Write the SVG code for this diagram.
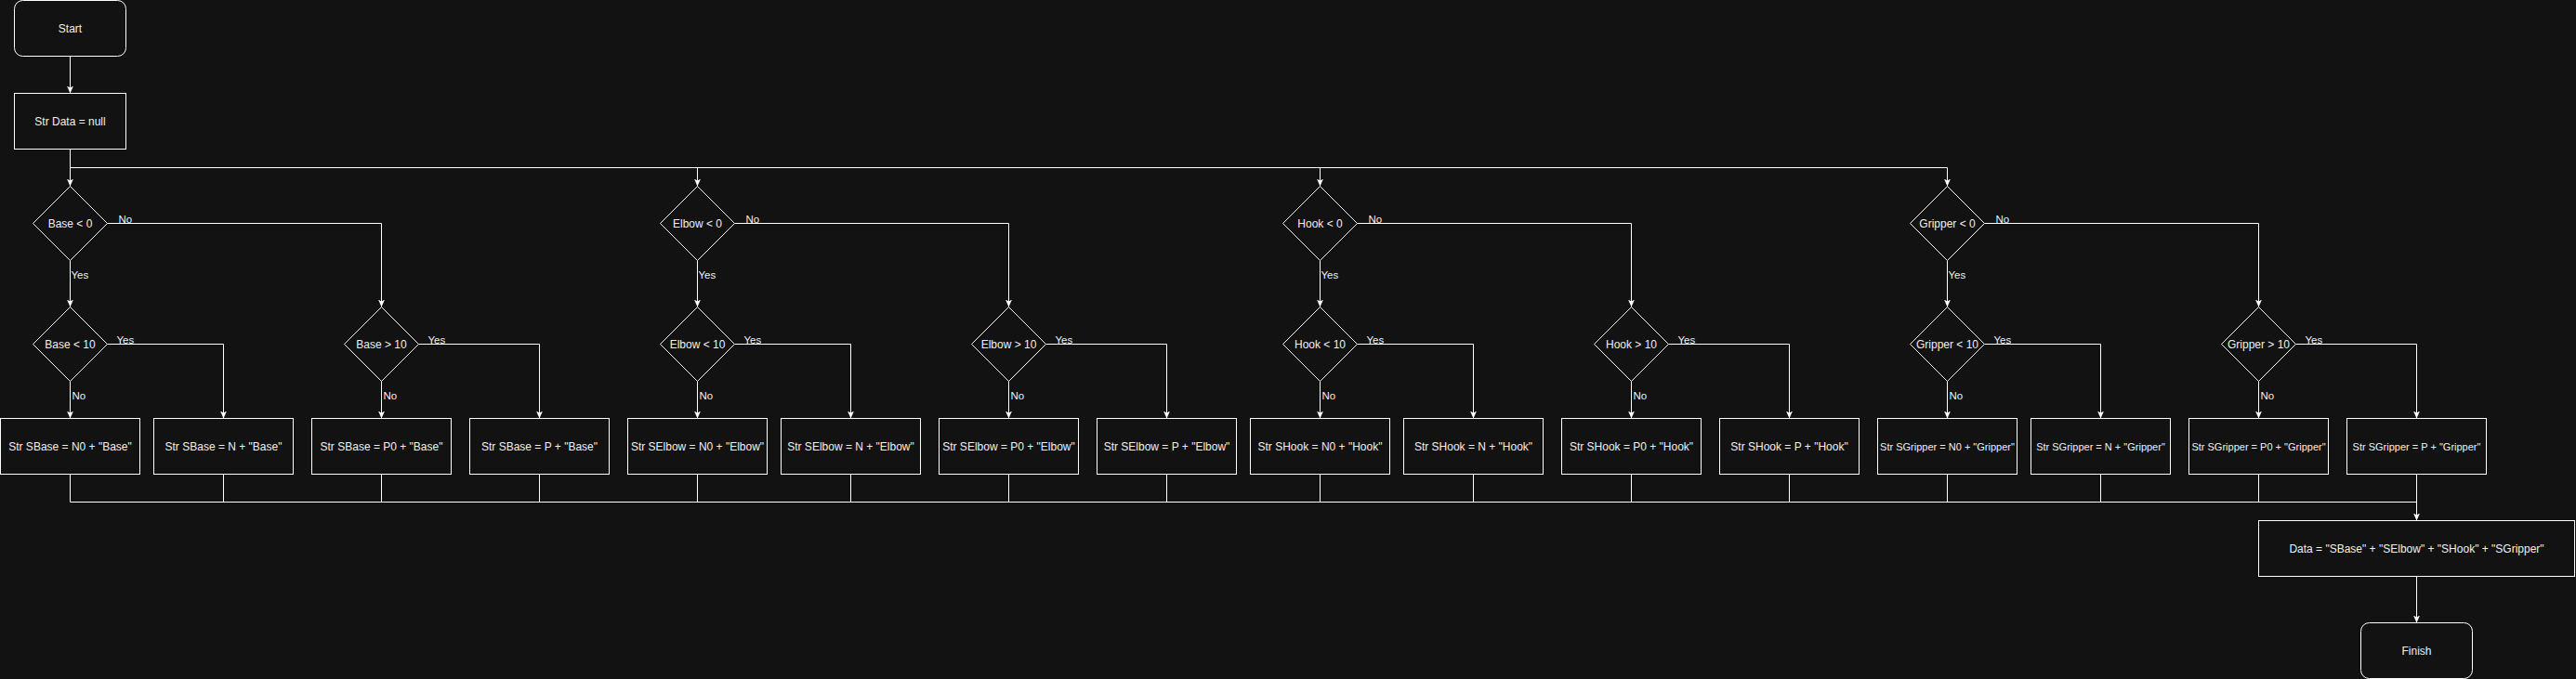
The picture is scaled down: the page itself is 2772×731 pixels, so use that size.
<svg xmlns="http://www.w3.org/2000/svg" width="2772" height="731" viewBox="0 0 2772 731">
<defs>
<marker id="arr" markerUnits="userSpaceOnUse" markerWidth="10" markerHeight="10" refX="8" refY="3.5" orient="auto">
<path d="M0,0 L8,3.5 L0,7 L2,3.5 Z" fill="#ffffff"/>
</marker>
<style>
.n{fill:#121212;stroke:#ffffff;stroke-width:1}
.t{font-family:"Liberation Sans",Arial,Helvetica,sans-serif;font-size:12px;fill:#f0f0f0;text-anchor:middle}
.ts{font-size:11px}
.e{fill:none;stroke:#ffffff;stroke-width:1;marker-end:url(#arr)}
.l{fill:none;stroke:#ffffff;stroke-width:1}
.lb{font-family:"Liberation Sans",Arial,Helvetica,sans-serif;font-size:11.5px;fill:#f0f0f0}
</style>
</defs>
<rect x="0" y="0" width="2772" height="731" fill="#121212"/>

<g id="connectors">
<path class="e" d="M75.5 60.5 V100.5"/>
<path class="e" d="M75.5 160.5 V180.5 V200.5"/>
<path class="e" d="M75.5 160.5 V180.5 H750.5 V200.5"/>
<path class="e" d="M75.5 160.5 V180.5 H1420.5 V200.5"/>
<path class="e" d="M75.5 160.5 V180.5 H2095.5 V200.5"/>
<!-- Base -->
<path class="e" d="M75.5 280.5 V330.5"/>
<path class="e" d="M115.5 240.5 H410.5 V330.5"/>
<path class="e" d="M115.5 370.5 H240.5 V450.5"/>
<path class="e" d="M75.5 410.5 V450.5"/>
<path class="e" d="M450.5 370.5 H580.5 V450.5"/>
<path class="e" d="M410.5 410.5 V450.5"/>
<!-- Elbow -->
<path class="e" d="M750.5 280.5 V330.5"/>
<path class="e" d="M790.5 240.5 H1085.5 V330.5"/>
<path class="e" d="M790.5 370.5 H915.5 V450.5"/>
<path class="e" d="M750.5 410.5 V450.5"/>
<path class="e" d="M1125.5 370.5 H1255.5 V450.5"/>
<path class="e" d="M1085.5 410.5 V450.5"/>
<!-- Hook -->
<path class="e" d="M1420.5 280.5 V330.5"/>
<path class="e" d="M1460.5 240.5 H1755.5 V330.5"/>
<path class="e" d="M1460.5 370.5 H1585.5 V450.5"/>
<path class="e" d="M1420.5 410.5 V450.5"/>
<path class="e" d="M1795.5 370.5 H1925.5 V450.5"/>
<path class="e" d="M1755.5 410.5 V450.5"/>
<!-- Gripper -->
<path class="e" d="M2095.5 280.5 V330.5"/>
<path class="e" d="M2135.5 240.5 H2430.5 V330.5"/>
<path class="e" d="M2135.5 370.5 H2260.5 V450.5"/>
<path class="e" d="M2095.5 410.5 V450.5"/>
<path class="e" d="M2470.5 370.5 H2600.5 V450.5"/>
<path class="e" d="M2430.5 410.5 V450.5"/>
<!-- merge -->
<path class="l" d="M75.5 510.5 V540.5 H2600.5"/>
<path class="l" d="M240.5 510.5 V540.5"/>
<path class="l" d="M410.5 510.5 V540.5"/>
<path class="l" d="M580.5 510.5 V540.5"/>
<path class="l" d="M750.5 510.5 V540.5"/>
<path class="l" d="M915.5 510.5 V540.5"/>
<path class="l" d="M1085.5 510.5 V540.5"/>
<path class="l" d="M1255.5 510.5 V540.5"/>
<path class="l" d="M1420.5 510.5 V540.5"/>
<path class="l" d="M1585.5 510.5 V540.5"/>
<path class="l" d="M1755.5 510.5 V540.5"/>
<path class="l" d="M1925.5 510.5 V540.5"/>
<path class="l" d="M2095.5 510.5 V540.5"/>
<path class="l" d="M2260.5 510.5 V540.5"/>
<path class="l" d="M2430.5 510.5 V540.5"/>
<path class="e" d="M2600.5 510.5 V560.5"/>
<path class="e" d="M2600.5 620.5 V670.5"/>
<!-- labels -->
<g>
<text class="lb" x="127.5" y="239.5">No</text>
<text class="lb" x="76.5" y="299.5">Yes</text>
<text class="lb" x="125.5" y="369.5">Yes</text>
<text class="lb" x="77.5" y="429.5">No</text>
<text class="lb" x="460.5" y="369.5">Yes</text>
<text class="lb" x="412.5" y="429.5">No</text>

<text class="lb" x="802.5" y="239.5">No</text>
<text class="lb" x="751.5" y="299.5">Yes</text>
<text class="lb" x="800.5" y="369.5">Yes</text>
<text class="lb" x="752.5" y="429.5">No</text>
<text class="lb" x="1135.5" y="369.5">Yes</text>
<text class="lb" x="1087.5" y="429.5">No</text>

<text class="lb" x="1472.5" y="239.5">No</text>
<text class="lb" x="1421.5" y="299.5">Yes</text>
<text class="lb" x="1470.5" y="369.5">Yes</text>
<text class="lb" x="1422.5" y="429.5">No</text>
<text class="lb" x="1805.5" y="369.5">Yes</text>
<text class="lb" x="1757.5" y="429.5">No</text>

<text class="lb" x="2147.5" y="239.5">No</text>
<text class="lb" x="2096.5" y="299.5">Yes</text>
<text class="lb" x="2145.5" y="369.5">Yes</text>
<text class="lb" x="2097.5" y="429.5">No</text>
<text class="lb" x="2480.5" y="369.5">Yes</text>
<text class="lb" x="2432.5" y="429.5">No</text>
</g>
</g>

<g id="start"><rect class="n" x="15.5" y="0.5" width="120" height="60" rx="9"/><text class="t" x="75.5" y="34.5">Start</text></g>
<g id="init"><rect class="n" x="15.5" y="100.5" width="120" height="60"/><text class="t" x="75.5" y="134.5">Str Data = null</text></g>

<g id="base-lt0"><polygon class="n" points="75.5,200.5 115.5,240.5 75.5,280.5 35.5,240.5"/><text class="t" x="75.5" y="244.5">Base &lt; 0</text></g>
<g id="base-lt10"><polygon class="n" points="75.5,330.5 115.5,370.5 75.5,410.5 35.5,370.5"/><text class="t" x="75.5" y="374.5">Base &lt; 10</text></g>
<g id="base-gt10"><polygon class="n" points="410.5,330.5 450.5,370.5 410.5,410.5 370.5,370.5"/><text class="t" x="410.5" y="374.5">Base &gt; 10</text></g>
<g id="base-n0"><rect class="n" x="0.5" y="450.5" width="150" height="60"/><text class="t" x="75.5" y="484.5">Str SBase = N0 + "Base"</text></g>
<g id="base-n"><rect class="n" x="165.5" y="450.5" width="150" height="60"/><text class="t" x="240.5" y="484.5">Str SBase = N + "Base"</text></g>
<g id="base-p0"><rect class="n" x="335.5" y="450.5" width="150" height="60"/><text class="t" x="410.5" y="484.5">Str SBase = P0 + "Base"</text></g>
<g id="base-p"><rect class="n" x="505.5" y="450.5" width="150" height="60"/><text class="t" x="580.5" y="484.5">Str SBase = P + "Base"</text></g>

<g id="elbow-lt0"><polygon class="n" points="750.5,200.5 790.5,240.5 750.5,280.5 710.5,240.5"/><text class="t" x="750.5" y="244.5">Elbow &lt; 0</text></g>
<g id="elbow-lt10"><polygon class="n" points="750.5,330.5 790.5,370.5 750.5,410.5 710.5,370.5"/><text class="t" x="750.5" y="374.5">Elbow &lt; 10</text></g>
<g id="elbow-gt10"><polygon class="n" points="1085.5,330.5 1125.5,370.5 1085.5,410.5 1045.5,370.5"/><text class="t" x="1085.5" y="374.5">Elbow &gt; 10</text></g>
<g id="elbow-n0"><rect class="n" x="675.5" y="450.5" width="150" height="60"/><text class="t" x="750.5" y="484.5">Str SElbow = N0 + "Elbow"</text></g>
<g id="elbow-n"><rect class="n" x="840.5" y="450.5" width="150" height="60"/><text class="t" x="915.5" y="484.5">Str SElbow = N + "Elbow"</text></g>
<g id="elbow-p0"><rect class="n" x="1010.5" y="450.5" width="150" height="60"/><text class="t" x="1085.5" y="484.5">Str SElbow = P0 + "Elbow"</text></g>
<g id="elbow-p"><rect class="n" x="1180.5" y="450.5" width="150" height="60"/><text class="t" x="1255.5" y="484.5">Str SElbow = P + "Elbow"</text></g>

<g id="hook-lt0"><polygon class="n" points="1420.5,200.5 1460.5,240.5 1420.5,280.5 1380.5,240.5"/><text class="t" x="1420.5" y="244.5">Hook &lt; 0</text></g>
<g id="hook-lt10"><polygon class="n" points="1420.5,330.5 1460.5,370.5 1420.5,410.5 1380.5,370.5"/><text class="t" x="1420.5" y="374.5">Hook &lt; 10</text></g>
<g id="hook-gt10"><polygon class="n" points="1755.5,330.5 1795.5,370.5 1755.5,410.5 1715.5,370.5"/><text class="t" x="1755.5" y="374.5">Hook &gt; 10</text></g>
<g id="hook-n0"><rect class="n" x="1345.5" y="450.5" width="150" height="60"/><text class="t" x="1420.5" y="484.5">Str SHook = N0 + "Hook"</text></g>
<g id="hook-n"><rect class="n" x="1510.5" y="450.5" width="150" height="60"/><text class="t" x="1585.5" y="484.5">Str SHook = N + "Hook"</text></g>
<g id="hook-p0"><rect class="n" x="1680.5" y="450.5" width="150" height="60"/><text class="t" x="1755.5" y="484.5">Str SHook = P0 + "Hook"</text></g>
<g id="hook-p"><rect class="n" x="1850.5" y="450.5" width="150" height="60"/><text class="t" x="1925.5" y="484.5">Str SHook = P + "Hook"</text></g>

<g id="gripper-lt0"><polygon class="n" points="2095.5,200.5 2135.5,240.5 2095.5,280.5 2055.5,240.5"/><text class="t" x="2095.5" y="244.5">Gripper &lt; 0</text></g>
<g id="gripper-lt10"><polygon class="n" points="2095.5,330.5 2135.5,370.5 2095.5,410.5 2055.5,370.5"/><text class="t" x="2095.5" y="374.5">Gripper &lt; 10</text></g>
<g id="gripper-gt10"><polygon class="n" points="2430.5,330.5 2470.5,370.5 2430.5,410.5 2390.5,370.5"/><text class="t" x="2430.5" y="374.5">Gripper &gt; 10</text></g>
<g id="gripper-n0"><rect class="n" x="2020.5" y="450.5" width="150" height="60"/><text class="t ts" x="2095.5" y="484.5">Str SGripper = N0 + "Gripper"</text></g>
<g id="gripper-n"><rect class="n" x="2185.5" y="450.5" width="150" height="60"/><text class="t ts" x="2260.5" y="484.5">Str SGripper = N + "Gripper"</text></g>
<g id="gripper-p0"><rect class="n" x="2355.5" y="450.5" width="150" height="60"/><text class="t ts" x="2430.5" y="484.5">Str SGripper = P0 + "Gripper"</text></g>
<g id="gripper-p"><rect class="n" x="2525.5" y="450.5" width="150" height="60"/><text class="t ts" x="2600.5" y="484.5">Str SGripper = P + "Gripper"</text></g>

<g id="data"><rect class="n" x="2430.5" y="560.5" width="340" height="60"/><text class="t" x="2600.5" y="594.5">Data = "SBase" + "SElbow" + "SHook" + "SGripper"</text></g>
<g id="finish"><rect class="n" x="2540.5" y="670.5" width="120" height="60" rx="9"/><text class="t" x="2600.5" y="704.5">Finish</text></g>
</svg>
